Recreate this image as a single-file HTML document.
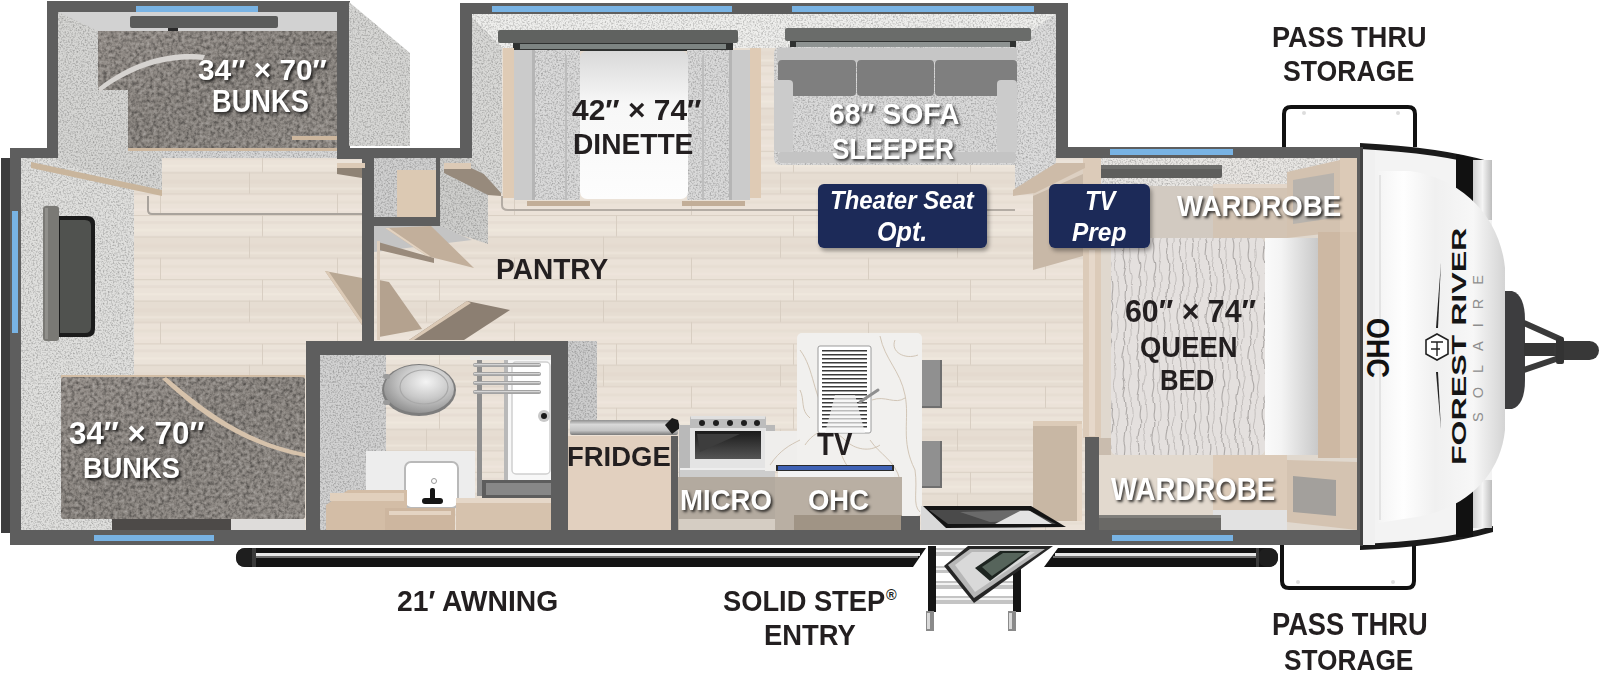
<!DOCTYPE html>
<html><head><meta charset="utf-8">
<style>
html,body{margin:0;padding:0;background:#fff;}
body{width:1600px;height:683px;position:relative;overflow:hidden;font-family:"Liberation Sans",sans-serif;}
svg{position:absolute;left:0;top:0;}
.lbl{position:absolute;font-weight:bold;color:#231f20;white-space:nowrap;line-height:1;transform-origin:0 0;}
.wl{color:#fff;text-shadow:2px 2px 3px rgba(0,0,0,.75);}
.bl{color:#fff;}
</style></head><body>
<svg width="1600" height="683" viewBox="0 0 1600 683">
<defs>
  <pattern id="plank" x="0" y="215" width="177" height="64.2" patternUnits="userSpaceOnUse">
    <rect width="177" height="64.2" fill="#eae1d7"/>
    <rect y="0" width="177" height="21.4" fill="#ebe3d9"/>
    <rect y="21.4" width="177" height="21.4" fill="#e6ddd2"/>
    <rect y="42.8" width="177" height="21.4" fill="#ebe2d8"/>
    <rect y="6" width="177" height="3" fill="#e4dbd0" opacity=".7"/>
    <rect y="29" width="177" height="4" fill="#e2d8cd" opacity=".6"/>
    <rect y="50" width="177" height="3" fill="#e5dcd1" opacity=".6"/>
    <rect y="14" width="177" height="2" fill="#f0e8df" opacity=".8"/>
    <rect y="37" width="177" height="2" fill="#efe7de" opacity=".7"/>
    <rect y="58" width="177" height="2" fill="#f0e8df" opacity=".7"/>
    <rect y="0" width="177" height="1" fill="#dad0c4"/>
    <rect y="21.4" width="177" height="1" fill="#dad0c4"/>
    <rect y="42.8" width="177" height="1" fill="#dad0c4"/>
    <rect x="85" y="0" width="1" height="21.4" fill="#d8cec2"/>
    <rect x="72" y="21.4" width="1" height="21.4" fill="#d8cec2"/>
    <rect x="160" y="42.8" width="1" height="21.4" fill="#d8cec2"/>
  </pattern>
  <linearGradient id="matg" x1="0" y1="0" x2="1" y2="1">
    <stop offset="0" stop-color="#958f8a"/><stop offset=".5" stop-color="#8a8580"/><stop offset="1" stop-color="#928d88"/>
  </linearGradient>
  <linearGradient id="capg" x1="0" y1="0" x2="1" y2="0">
    <stop offset="0" stop-color="#f7f7f7"/><stop offset=".15" stop-color="#ffffff"/><stop offset=".6" stop-color="#f3f3f3"/><stop offset="1" stop-color="#d9d9d9"/>
  </linearGradient>
  <filter id="grain" x="0" y="0" width="100%" height="100%" color-interpolation-filters="sRGB">
    <feTurbulence type="fractalNoise" baseFrequency="0.28" numOctaves="3" seed="7" result="n"/>
    <feColorMatrix in="n" type="matrix" values="0 0 0 0 0  0 0 0 0 0  0 0 0 0 0  0 0 0 -0.9 0.5" result="dark"/>
    <feColorMatrix in="n" type="matrix" values="0 0 0 0 1  0 0 0 0 1  0 0 0 0 1  0 0 0 0.7 -0.4" result="light"/>
    <feComposite in="dark" in2="SourceAlpha" operator="in" result="d2"/>
    <feComposite in="light" in2="SourceAlpha" operator="in" result="l2"/>
    <feMerge><feMergeNode in="SourceGraphic"/><feMergeNode in="d2"/><feMergeNode in="l2"/></feMerge>
  </filter>
  <filter id="grain2" x="0" y="0" width="100%" height="100%" color-interpolation-filters="sRGB">
    <feTurbulence type="fractalNoise" baseFrequency="0.6" numOctaves="2" seed="3" result="n"/>
    <feColorMatrix in="n" type="matrix" values="0 0 0 0 0  0 0 0 0 0  0 0 0 0 0  0 0 0 -0.6 0.34" result="dark"/>
    <feComposite in="dark" in2="SourceAlpha" operator="in" result="d2"/>
    <feMerge><feMergeNode in="SourceGraphic"/><feMergeNode in="d2"/></feMerge>
  </filter>
</defs>
<!-- main body outer walls -->
<rect x="1" y="158" width="9" height="375" fill="#3d3d3e"/>
<rect x="10" y="148" width="1350" height="397" fill="#5e5e5e"/>
<rect x="21" y="158" width="1336" height="372" fill="url(#plank)"/>
<!-- bunk slide -->
<rect x="47" y="1" width="303" height="157" fill="#5e5e5e"/>
<rect x="58" y="12" width="279" height="146" fill="#d5d5d5" filter="url(#grain2)"/>
<rect x="136" y="6" width="122" height="6" fill="#78b3e4"/>
<polygon points="349,2 410,53 410,146 349,146" fill="#d6d6d4" filter="url(#grain2)"/>
<!-- dinette slide -->
<rect x="460" y="3" width="608" height="155" fill="#5e5e5e"/>
<rect x="472" y="14" width="584" height="144" fill="url(#plank)"/>
<rect x="472" y="14" width="584" height="34" fill="#eeeeec" filter="url(#grain2)"/>
<rect x="492" y="6" width="240" height="6" fill="#78b3e4"/>
<rect x="792" y="6" width="242" height="6" fill="#78b3e4"/>
<!-- top wall between slides -->
<rect x="337" y="148" width="123" height="11" fill="#5e5e5e"/>
<rect x="1056" y="147" width="304" height="11" fill="#5e5e5e"/>
<rect x="21" y="158" width="113" height="372" fill="#dfdfdd" filter="url(#grain2)"/>
<!-- upper bunk -->
<rect x="58" y="12" width="279" height="19" fill="#d2d2d2"/>
<polygon points="58,12 98,31 98,88 128,88 128,148 162,148 162,194 58,162" fill="#d5d5d3" filter="url(#grain2)"/>
<polygon points="31,162 162,190 162,196 31,168" fill="#c9b59c"/>
<path d="M98,31 H337 V148 H128 V90 H98 Z" fill="url(#matg)" filter="url(#grain)"/>
<rect x="128" y="148" width="209" height="3" fill="#cdb79e"/>
<path d="M98,88 C140,55 180,52 205,55 L203,60 C175,58 140,62 100,92 Z" fill="#d6d3d0"/>
<rect x="130" y="16" width="148" height="12" rx="2" fill="#5a5b5a"/>
<rect x="168" y="28" width="10" height="3" fill="#2a2a2a"/>
<rect x="292" y="136" width="45" height="4" fill="#cdb79e"/>
<!-- left interior wall -->
<rect x="12" y="211" width="6" height="122" fill="#78b3e4"/>
<rect x="43" y="206" width="16" height="135" rx="3" fill="#7a7975"/><rect x="45" y="208" width="3" height="131" fill="#908f8b"/>
<path d="M59,216 H87 Q95,216 95,224 V329 Q95,337 87,337 H59 Z" fill="#1b1b1b"/>
<path d="M60,220 H85 Q91,220 91,226 V327 Q91,333 85,333 H60 Z" fill="#50524f"/>
<!-- ladder rail -->
<path d="M148,196 V210 Q148,214 152,214 H362" stroke="#a9a39c" stroke-width="2" fill="none"/>
<!-- lower bunk -->
<rect x="61" y="375" width="244" height="3" fill="#d2bda5"/>
<rect x="61" y="377" width="244" height="142" rx="3" fill="url(#matg)" filter="url(#grain)"/>
<path d="M166,377 C200,405 240,440 305,453 L305,457 C240,445 195,410 162,379 Z" fill="#d6c2ab"/>
<rect x="112" y="519" width="119" height="11" fill="#4d4a48"/>
<rect x="231" y="519" width="74" height="11" fill="#dedcda"/>
<rect x="94" y="535" width="120" height="6" fill="#78b3e4"/>
<!-- pantry -->
<rect x="362" y="148" width="12" height="193" fill="#5e5e5e"/>
<rect x="374" y="158" width="64" height="62" fill="#cfcfcf" filter="url(#grain2)"/>
<rect x="397" y="170" width="39" height="47" fill="#dcc9b3"/>
<rect x="374" y="217" width="66" height="9" fill="#5e5e5e"/>
<rect x="436" y="158" width="4" height="68" fill="#5e5e5e"/>
<polygon points="440,158 502,158 502,183 488,195 488,244 440,228" fill="#cececc" filter="url(#grain2)"/>
<polygon points="444,169 471,168 501,182 501,196 488,195 444,173" fill="#978a7c"/>
<rect x="444" y="163" width="27" height="6" fill="#dccab6"/>
<rect x="337" y="163" width="28" height="5" fill="#dccab6"/>
<polygon points="337,168 362,168 362,178 337,174" fill="#8f8375"/>
<polygon points="374,226 440,226 472,240 374,252" fill="#c4c4c4"/>
<polygon points="325,271 362,278 362,325" fill="#b9a894"/>
<polygon points="325,271 329,272 362,320 362,325" fill="#dccab6"/>
<polygon points="379,280 389,282 422,329 379,337" fill="#b4a28f"/>
<polygon points="378,242 434,258 434,263 379,250" fill="#9a8b7c"/>
<polygon points="385,228 431,226 474,268 427,256" fill="#c2af9b"/>
<polygon points="385,228 389,228 430,256 427,256" fill="#e2d2c0"/>
<rect x="377" y="241" width="3" height="99" fill="#ddcdbc"/>
<polygon points="409,340 467,301 510,310 464,340" fill="#8c7f72"/>
<polygon points="409,340 467,301 471,303 414,340" fill="#dbc9b5"/>
<!-- slide 3d side walls -->
<polygon points="472,17 502,48 502,194 472,161" fill="#d8d8d6" filter="url(#grain2)"/>

<polygon points="1056,14 1015,42 1015,193 1056,165" fill="#dcdcdc" filter="url(#grain2)"/>

<!-- dinette -->
<defs><linearGradient id="tblg" x1="0" y1="0" x2="0" y2="1"><stop offset="0" stop-color="#d9d9d9"/><stop offset=".35" stop-color="#f7f7f7"/><stop offset="1" stop-color="#fdfdfd"/></linearGradient></defs>
<rect x="498" y="30" width="240" height="13" rx="2" fill="#606260"/>
<rect x="513" y="43" width="220" height="8" fill="#2f3130"/>
<rect x="520" y="44" width="206" height="5" fill="#7d8482"/>
<rect x="503" y="48" width="11" height="150" fill="#dfcbb5"/>
<rect x="750" y="48" width="11" height="150" fill="#dfcbb5"/>
<rect x="514" y="50" width="66" height="150" fill="#d9d9d9" filter="url(#grain2)"/>
<rect x="514" y="50" width="20" height="150" fill="#cbcbcb"/>
<rect x="532" y="50" width="3" height="150" fill="#b5b5b5"/>
<rect x="565" y="55" width="2" height="145" fill="#bdbdbd"/>
<rect x="687" y="50" width="63" height="150" fill="#d9d9d9" filter="url(#grain2)"/>
<rect x="730" y="50" width="20" height="150" fill="#cbcbcb"/>
<rect x="729" y="50" width="3" height="150" fill="#b5b5b5"/>
<rect x="702" y="55" width="2" height="145" fill="#bdbdbd"/>
<rect x="580" y="51" width="108" height="148" rx="7" fill="url(#tblg)"/>
<rect x="527" y="201" width="63" height="5" fill="#c2ae98"/>
<rect x="682" y="201" width="63" height="5" fill="#c2ae98"/>
<path d="M502,196 V205 Q502,210 508,210 H1015" stroke="#b3aca4" stroke-width="2" fill="none"/>
<!-- sofa -->
<rect x="785" y="28" width="246" height="13" rx="2" fill="#6a6c6a"/>
<rect x="790" y="41" width="226" height="8" fill="#2f3130"/>
<rect x="796" y="42" width="214" height="5" fill="#8e9392"/>
<rect x="774" y="47" width="246" height="118" rx="6" fill="#d9d9d9" filter="url(#grain2)"/>
<rect x="777" y="48" width="240" height="13" rx="3" fill="#c6c6c6"/>
<rect x="778" y="60" width="78" height="36" rx="4" fill="#7f7f7f"/>
<rect x="857" y="60" width="77" height="36" rx="4" fill="#7d7d7d"/>
<rect x="935" y="60" width="82" height="36" rx="4" fill="#7f7f7f"/>
<rect x="774" y="80" width="19" height="72" rx="4" fill="#cbcbcb"/>
<rect x="997" y="80" width="20" height="72" rx="4" fill="#cbcbcb"/>
<rect x="856" y="96" width="1.5" height="66" fill="#bdbdbd"/>
<rect x="934" y="96" width="1.5" height="66" fill="#bdbdbd"/>
<rect x="778" y="152" width="238" height="11" rx="4" fill="#c4c4c4"/>
<!-- bathroom -->
<rect x="306" y="341" width="262" height="204" fill="#5e5e5e"/>
<rect x="320" y="355" width="234" height="175" fill="url(#plank)"/>
<rect x="320" y="355" width="66" height="175" fill="#d1d1d1" filter="url(#grain2)"/>
<rect x="568" y="341" width="29" height="79" fill="#cccccc" filter="url(#grain2)"/>
<!-- toilet -->
<defs><radialGradient id="tlg" cx=".6" cy=".35" r=".7"><stop offset="0" stop-color="#f4f4f4"/><stop offset=".5" stop-color="#c9c9c9"/><stop offset="1" stop-color="#8d8d8d"/></radialGradient></defs>
<ellipse cx="419" cy="390" rx="37" ry="26" fill="#7d7d7d"/>
<ellipse cx="419" cy="389" rx="35" ry="24" fill="url(#tlg)"/>
<ellipse cx="424" cy="387" rx="24" ry="17" fill="none" stroke="#a9a9a9" stroke-width="1.2"/>
<rect x="383" y="374" width="7" height="5" rx="2.5" fill="#9a9a9a"/>
<rect x="383" y="400" width="7" height="5" rx="2.5" fill="#9a9a9a"/>
<!-- shower -->
<rect x="504" y="356" width="50" height="126" fill="#f7f7f7"/>
<rect x="504" y="356" width="4" height="126" fill="#b9b9b9"/>
<rect x="512" y="362" width="38" height="112" rx="4" fill="#ffffff" stroke="#d0d0d0" stroke-width="1.5"/>
<circle cx="544" cy="416" r="6" fill="#c9c9c9"/><circle cx="544" cy="416" r="3" fill="#1a1a1a"/>
<rect x="477" y="357" width="5" height="139" fill="#8f8f8f"/>
<rect x="470" y="356" width="84" height="4" fill="#e8e8e8"/>
<g fill="#a3a3a3">
<rect x="473" y="363" width="68" height="4" rx="2"/>
<rect x="473" y="372" width="68" height="4" rx="2"/>
<rect x="473" y="381" width="68" height="4" rx="2"/>
<rect x="473" y="390" width="68" height="4" rx="2"/>
</g>
<g fill="#d5d5d5"><rect x="474" y="364" width="66" height="1.2"/><rect x="474" y="373" width="66" height="1.2"/><rect x="474" y="382" width="66" height="1.2"/><rect x="474" y="391" width="66" height="1.2"/></g>
<rect x="482" y="480" width="72" height="18" fill="#5d5d5d"/>
<rect x="486" y="483" width="66" height="12" fill="#878787"/>
<!-- sink -->
<rect x="366" y="451" width="109" height="50" fill="#ededed"/>
<rect x="405" y="462" width="53" height="46" rx="6" fill="#ffffff" stroke="#b9b9b9" stroke-width="2"/>
<circle cx="434" cy="481" r="2.5" fill="none" stroke="#999" stroke-width="1"/>
<rect x="430" y="488" width="5" height="14" rx="2" fill="#151515"/>
<rect x="422" y="498" width="21" height="6" rx="3" fill="#151515"/>
<!-- cabinets -->
<polygon points="326,505 348,490 407,490 407,530 326,530" fill="#d3bda6"/>
<rect x="330" y="493" width="74" height="8" fill="#e1d0bd"/>
<rect x="385" y="508" width="70" height="22" fill="#cdb69f"/>
<rect x="389" y="511" width="62" height="4" fill="#e4d4c3"/>
<rect x="456" y="498" width="98" height="32" fill="#d6c2ad"/>
<rect x="456" y="498" width="98" height="5" fill="#e5d7c8"/>
<rect x="551" y="355" width="3" height="175" fill="#5e5e5e"/>
<!-- fridge -->
<defs><linearGradient id="silv" x1="0" y1="0" x2="0" y2="1"><stop offset="0" stop-color="#8f8f8f"/><stop offset=".3" stop-color="#d8d8d8"/><stop offset=".7" stop-color="#c4c4c4"/><stop offset="1" stop-color="#7a7a7a"/></linearGradient>
<linearGradient id="ovg" x1="0" y1="0" x2="0" y2="1"><stop offset="0" stop-color="#1a1a1a"/><stop offset="1" stop-color="#555"/></linearGradient></defs>
<rect x="568" y="433" width="105" height="97" fill="#e2d0bf"/>
<rect x="568" y="433" width="105" height="3" fill="#eee2d6"/>
<rect x="570" y="420" width="108" height="15" rx="2" fill="url(#silv)"/>
<path d="M665,425 L672,418 L678,420 L680,428 L672,434 Z" fill="#1a1a1a"/>
<rect x="671" y="436" width="7" height="94" fill="#5e5e5e"/>
<!-- stove -->
<rect x="679" y="425" width="96" height="52" fill="#b9b9b9"/>
<rect x="690" y="416" width="76" height="12" rx="2" fill="#bdbdbd"/>
<rect x="691" y="416" width="74" height="3" fill="#e0e0e0"/>
<g fill="#1f1f1f"><circle cx="702" cy="423" r="3"/><circle cx="716" cy="423" r="3"/><circle cx="730" cy="423" r="3"/><circle cx="744" cy="423" r="3"/><circle cx="757" cy="423" r="3"/></g>
<rect x="690" y="428" width="76" height="41" fill="#e4e4e4"/>
<rect x="695" y="431" width="66" height="28" fill="url(#ovg)"/>
<polygon points="697,434 740,434 700,452" fill="#3d3d3d"/>
<rect x="680" y="468" width="95" height="9" fill="#cdcdcd"/>
<rect x="680" y="468" width="95" height="2" fill="#eeeeee"/>
<!-- island -->
<rect x="765" y="431" width="40" height="40" fill="#efeeec"/>
<rect x="797" y="333" width="125" height="183" rx="5" fill="#f1f0ee"/>
<g stroke="#c9bba9" stroke-width="0.9" fill="none" opacity=".9">
<path d="M800,350 C815,370 812,395 830,420 C840,435 835,450 850,470"/>
<path d="M880,336 C885,360 900,370 905,395 C910,420 900,440 915,470 C918,490 912,505 920,512"/>
<path d="M870,440 C880,455 895,460 900,480"/>
<path d="M805,445 C815,430 830,425 845,440 C855,450 870,452 880,445"/>
<path d="M895,340 C890,352 905,360 918,355"/>
<path d="M872,400 C885,395 895,405 905,398"/>
<path d="M770,465 C780,450 790,445 800,440"/>
<path d="M800,390 C805,400 800,410 810,418"/>
</g>
<rect x="818" y="346" width="53" height="87" rx="2" fill="#ffffff" stroke="#9a9a9a" stroke-width="1"/>
<g fill="#3a3a3a">
<rect x="822" y="350" width="45" height="1.5"/><rect x="822" y="354" width="45" height="1.5"/><rect x="822" y="358" width="45" height="1.5"/><rect x="822" y="362" width="45" height="1.5"/><rect x="822" y="366" width="45" height="1.5"/><rect x="822" y="370" width="45" height="1.5"/><rect x="822" y="374" width="45" height="1.5"/><rect x="822" y="378" width="45" height="1.5"/><rect x="822" y="382" width="45" height="1.5"/><rect x="822" y="386" width="45" height="1.5"/><rect x="822" y="390" width="45" height="1.5"/><rect x="822" y="394" width="45" height="1.5"/><rect x="822" y="398" width="45" height="1.5"/><rect x="822" y="402" width="45" height="1.5"/><rect x="822" y="406" width="45" height="1.5"/><rect x="822" y="410" width="45" height="1.5"/><rect x="822" y="414" width="45" height="1.5"/><rect x="822" y="418" width="45" height="1.5"/><rect x="822" y="422" width="45" height="1.5"/><rect x="822" y="426" width="45" height="1.5"/>
</g>
<polygon points="835,395 855,395 865,433 825,433" fill="#f4f4f4" opacity=".7"/>
<path d="M860,402 L878,390" stroke="#8f8f8f" stroke-width="3" stroke-linecap="round"/>
<!-- stools -->
<rect x="922" y="360" width="20" height="48" fill="#6f6f6f"/><rect x="922" y="360" width="18" height="46" fill="#909090"/>
<rect x="922" y="441" width="20" height="47" fill="#6f6f6f"/><rect x="922" y="441" width="18" height="45" fill="#909090"/>
<!-- lower cabinets -->
<rect x="678" y="477" width="224" height="53" fill="#b9afa3"/>
<rect x="679" y="477" width="96" height="53" fill="#b3aa9f"/>
<rect x="679" y="519" width="96" height="11" fill="#d5cdc3"/>
<rect x="776" y="465" width="118" height="6" fill="#2a2a2a"/><rect x="778" y="466" width="114" height="4" fill="#3f62b5"/>
<rect x="778" y="471" width="116" height="6" fill="#f3f3f3"/>
<rect x="794" y="515" width="108" height="15" fill="#a09485"/>
<rect x="901" y="516" width="19" height="14" fill="#5d5d5d"/>
<!-- right cabinet near entry -->
<rect x="1033" y="421" width="49" height="100" fill="#c8b7a4"/>
<rect x="1033" y="421" width="49" height="5" fill="#dccbb8"/>
<rect x="1077" y="424" width="5" height="97" fill="#e6d5c3"/>
<!-- entry door -->
<rect x="921" y="506" width="110" height="24" fill="#d9d9d9"/>
<polygon points="923,506 1031,506 1066,527 946,528" fill="#141414"/>
<polygon points="929,510 1028,510 1056,524 948,524" fill="#4a4a4a"/>
<polygon points="960,512 1028,510 1045,520 990,522" fill="#6a6a6a"/>
<polygon points="995,524 1020,511 1030,511 1052,524" fill="#e3e3e3"/>
<!-- bedroom -->
<defs>
<pattern id="wave" x="0" y="0" width="14" height="40" patternUnits="userSpaceOnUse">
  <rect width="14" height="40" fill="#e4e0de"/>
  <path d="M4,0 C7,8 2,14 5,20 C8,27 3,33 4,40" stroke="#aeaaa8" stroke-width="1.1" fill="none"/>
  <path d="M11,0 C9,6 13,13 10,22 C8,30 12,35 11,40" stroke="#bdb9b7" stroke-width="0.9" fill="none"/>
</pattern>
<linearGradient id="pillg" x1="0" y1="0" x2="1" y2="0"><stop offset="0" stop-color="#fafafa"/><stop offset=".3" stop-color="#f4f4f4"/><stop offset="1" stop-color="#c9c9c9"/></linearGradient>
<filter id="wob" x="-5%" y="-5%" width="110%" height="110%">
  <feTurbulence type="fractalNoise" baseFrequency="0.015 0.03" numOctaves="1" seed="11" result="t"/>
  <feDisplacementMap in="SourceGraphic" in2="t" scale="12" xChannelSelector="R" yChannelSelector="G"/>
</filter>
<clipPath id="matclip"><rect x="1111" y="238" width="154" height="217" rx="6"/></clipPath>
</defs>
<rect x="1056" y="3" width="12" height="155" fill="#5e5e5e"/>
<rect x="1099" y="158" width="258" height="372" fill="#e0d8ce"/>
<rect x="1099" y="158" width="258" height="28" fill="#e8e6e3" filter="url(#grain2)"/>
<rect x="1087" y="158" width="12" height="30" fill="#5e5e5e"/>
<rect x="1110" y="149" width="123" height="6" fill="#78b3e4"/>
<rect x="1099" y="165" width="123" height="13" rx="2" fill="#5e5e5c"/>
<rect x="1099" y="165" width="123" height="4" fill="#6d6d6b"/>
<rect x="1083" y="158" width="18" height="280" fill="#dccbb9"/>
<rect x="1089" y="250" width="6" height="186" fill="#e6d8ca"/>
<polygon points="1033,190 1083,168 1083,256 1033,270" fill="#c8b8a7"/>
<polygon points="1033,190 1083,168 1083,174 1033,196" fill="#ddd0c2"/>
<polygon points="1013,190 1056,163 1085,163 1085,168 1035,193 1013,196" fill="#cdbba8"/>
<rect x="1099" y="186" width="114" height="52" fill="#d2cac1"/>
<rect x="1213" y="184" width="74" height="54" fill="#d3c4b4"/>
<rect x="1213" y="184" width="74" height="4" fill="#e3d6c9"/>
<polygon points="1287,172 1340,160 1340,232 1287,238" fill="#d3c2b0"/>
<polygon points="1293,180 1334,173 1334,218 1293,224" fill="#b8b3ad"/>
<rect x="1340" y="158" width="17" height="88" fill="#dccab7"/>
<rect x="1111" y="238" width="154" height="217" rx="6" fill="#e4e0de"/>
<g clip-path="url(#matclip)"><rect x="1100" y="228" width="176" height="237" fill="url(#wave)" filter="url(#wob)"/></g>
<rect x="1265" y="238" width="53" height="217" fill="url(#pillg)"/>
<rect x="1318" y="232" width="22" height="226" fill="#cdb8a3"/>
<rect x="1340" y="232" width="17" height="226" fill="#d8c5b1"/>
<rect x="1099" y="438" width="12" height="92" fill="#c9bcae"/>
<rect x="1099" y="455" width="114" height="60" fill="#e2d9ce"/>
<rect x="1213" y="455" width="74" height="55" fill="#dccbb9"/>
<rect x="1213" y="510" width="74" height="20" fill="#e2e2e2"/>
<polygon points="1287,460 1357,462 1357,530 1287,522" fill="#d4c3b1"/>
<polygon points="1293,476 1336,480 1336,516 1293,512" fill="#a3a09c"/>
<rect x="1099" y="515" width="122" height="15" fill="#6a6966"/>
<rect x="1099" y="515" width="122" height="3" fill="#807f7b"/>
<rect x="1085" y="437" width="14" height="93" fill="#5e5e5e"/>
<rect x="1112" y="535" width="121" height="6" fill="#78b3e4"/>
<!-- pass thru boxes -->
<path d="M1284,147 V114 Q1284,107 1291,107 H1408 Q1415,107 1415,114 V147" stroke="#111" stroke-width="4" fill="none"/>
<circle cx="1304" cy="113" r="2" fill="#ddd"/><circle cx="1398" cy="113" r="2" fill="#ddd"/>
<path d="M1282,545 V581 Q1282,588 1289,588 H1407 Q1414,588 1414,581 V545" stroke="#111" stroke-width="4" fill="none"/>
<circle cx="1298" cy="582" r="2" fill="#ddd"/><circle cx="1393" cy="582" r="2" fill="#ddd"/>
<!-- cap body -->
<defs>
<linearGradient id="sideg" x1="0" y1="0" x2="1" y2="0"><stop offset="0" stop-color="#cfcfcf"/><stop offset=".5" stop-color="#f5f5f5"/><stop offset="1" stop-color="#bdbdbd"/></linearGradient>
<linearGradient id="bulg" x1="0" y1="0" x2="1" y2="0"><stop offset="0" stop-color="#f4f4f4"/><stop offset=".2" stop-color="#fefefe"/><stop offset=".45" stop-color="#f0f0f0"/><stop offset=".75" stop-color="#f7f7f7"/><stop offset="1" stop-color="#d4d4d4"/></linearGradient>
</defs>
<path d="M1360,147 Q1430,150 1492,166 V530 Q1430,545 1360,546 Z" fill="#f3f3f3"/>
<path d="M1360,143 Q1440,147 1492,162 L1492,168 Q1440,153 1360,149 Z" fill="#1b1b1b"/>
<path d="M1360,550 Q1440,547 1493,532 L1493,526 Q1440,541 1360,544 Z" fill="#1b1b1b"/>
<rect x="1473" y="160" width="19" height="60" fill="url(#sideg)"/>
<rect x="1473" y="480" width="19" height="48" fill="url(#sideg)"/>
<polygon points="1456,154 1473,158 1473,215 1456,201" fill="#111"/>
<polygon points="1456,496 1473,486 1473,537 1456,537" fill="#111"/>
<path d="M1362,150 H1375 V545 H1362 Z" fill="#f0f0f0"/>
<path d="M1378,171 H1410 C1460,178 1500,215 1505,268 V430 C1500,480 1460,512 1410,518 L1378,523 Z" fill="url(#bulg)"/>
<rect x="1360" y="147" width="3" height="399" fill="#444"/>
<rect x="1379" y="175" width="2" height="345" fill="#e3e3e3"/>
<!-- hitch -->
<path d="M1505,291 H1512 Q1525,295 1525,320 V380 Q1525,405 1512,409 H1505 Z" fill="#3d3d3f"/>
<path d="M1524,323 L1562,340 M1524,370 L1562,357" stroke="#3a3a3a" stroke-width="6"/>
<rect x="1524" y="343" width="32" height="13" fill="#363636"/>
<rect x="1553" y="341" width="46" height="19" rx="9.5" fill="#383838"/>
<rect x="1556" y="337" width="8" height="27" rx="2" fill="#333"/>
<!-- forest river logo -->
<g transform="translate(1466,465) rotate(-90)">
  <text x="0" y="0" font-family="Liberation Sans" font-weight="bold" font-size="21" fill="#151515" transform="scale(1.53,1)">FOREST RIVER</text>
</g>
<g transform="translate(1483,422) rotate(-90)">
  <text x="0" y="0" font-family="Liberation Sans" font-size="14.5" fill="#8e8e8e" letter-spacing="14">SOLAIRE</text>
</g>
<polygon points="1437,334 1448,340 1448,354 1437,360 1426,354 1426,340" fill="#fff" stroke="#222" stroke-width="1.6"/>
<path d="M1431,342 H1443 M1437,342 V356 M1431,349 H1440" stroke="#222" stroke-width="1.4" fill="none"/>
<path d="M1441,262 L1438,328 L1436,328 Z" fill="#222"/>
<path d="M1441,430 L1438,372 L1436,372 Z" fill="#222"/>
<g transform="translate(1367,348) rotate(90)">
  <text x="0" y="0" text-anchor="middle" font-family="Liberation Sans" font-weight="bold" font-size="27" fill="#111" transform="scale(1,1.18)">OHC</text>
</g>
<!-- awning -->
<path d="M246,548 H926 L913,567 H246 Q236,567 236,557.5 Q236,548 246,548 Z" fill="#141414"/>
<rect x="256" y="553" width="664" height="3" fill="#e8e8e8"/>
<rect x="256" y="556" width="662" height="2" fill="#6e6e6e"/>
<path d="M1058,548 H1268 Q1278,548 1278,557.5 Q1278,567 1268,567 H1044 Z" fill="#141414"/>
<rect x="1055" y="553" width="205" height="3" fill="#e8e8e8"/>
<rect x="1053" y="556" width="207" height="2" fill="#6e6e6e"/>
<rect x="236" y="548" width="20" height="19" rx="9" fill="#1e1e1e"/>
<rect x="252" y="548" width="4" height="19" fill="#3a3a3a"/>
<rect x="1258" y="548" width="20" height="19" rx="9" fill="#1e1e1e"/>
<rect x="1256" y="548" width="3" height="19" fill="#3a3a3a"/>
<!-- step -->
<g fill="#c4c4c4"><rect x="936" y="548" width="77" height="8"/><rect x="936" y="566" width="77" height="7"/><rect x="936" y="581" width="77" height="8"/><rect x="936" y="596" width="77" height="8"/></g>
<g fill="#f2f2f2"><rect x="936" y="550" width="77" height="2"/><rect x="936" y="568" width="77" height="2"/><rect x="936" y="583" width="77" height="2"/><rect x="936" y="598" width="77" height="2"/></g>
<rect x="928" y="546" width="8" height="66" fill="#151515"/>
<rect x="1013" y="546" width="8" height="66" fill="#151515"/>
<rect x="926" y="611" width="8" height="20" fill="#8a8a8a"/>
<rect x="927" y="613" width="3" height="16" fill="#d9d9d9"/>
<rect x="1008" y="611" width="8" height="20" fill="#8a8a8a"/>
<rect x="1009" y="613" width="3" height="16" fill="#d9d9d9"/>
<polygon points="944,566 968,546 1053,546 974,603" fill="#262626"/>
<polygon points="948,565 970,549 1045,549 974,598" fill="#b7b7b7"/>
<polygon points="955,565 972,552 1035,552 975,592" fill="#d9d9d9"/>
<polygon points="975,568 1000,551 1030,551 990,581" fill="#1d2420"/>
<polygon points="982,567 1003,553 1025,553 992,576" fill="#56645b"/>
<filter id="bsh" x="-10%" y="-10%" width="130%" height="140%"><feDropShadow dx="2" dy="3" stdDeviation="2" flood-color="#000" flood-opacity=".35"/></filter>
<g filter="url(#bsh)">
<rect x="818" y="184" width="169" height="64" rx="6" fill="#1b2959"/>
<rect x="1049" y="184" width="101" height="64" rx="6" fill="#1b2959"/>
</g>

</svg>
<div class="lbl" style="left:1272.0px;top:21.5px;font-size:30.0px;transform:scaleX(0.903);">PASS THRU</div>
<div class="lbl" style="left:1283.3px;top:55.5px;font-size:30.0px;transform:scaleX(0.889);">STORAGE</div>
<div class="lbl" style="left:1272.0px;top:609.3px;font-size:31.43px;transform:scaleX(0.868);">PASS THRU</div>
<div class="lbl" style="left:1284.3px;top:644.5px;font-size:30.0px;transform:scaleX(0.875);">STORAGE</div>
<div class="lbl" style="left:397.3px;top:585.5px;font-size:30.0px;transform:scaleX(0.942);">21′ AWNING</div>
<div class="lbl" style="left:723.3px;top:586.7px;font-size:28.57px;transform:scaleX(0.955);">SOLID STEP</div>
<div class="lbl" style="left:763.9px;top:620.7px;font-size:28.57px;transform:scaleX(0.958);">ENTRY</div>
<div class="lbl" style="left:572.3px;top:94.5px;font-size:30.0px;transform:scaleX(0.998);">42″ × 74″</div>
<div class="lbl" style="left:572.9px;top:128.6px;font-size:29.29px;transform:scaleX(0.961);">DINETTE</div>
<div class="lbl" style="left:495.9px;top:253.5px;font-size:30.0px;transform:scaleX(0.936);">PANTRY</div>
<div class="lbl" style="left:1124.5px;top:297.4px;font-size:30.71px;transform:scaleX(0.988);">60″ × 74″</div>
<div class="lbl" style="left:1139.6px;top:332.3px;font-size:29.57px;transform:scaleX(0.928);">QUEEN</div>
<div class="lbl" style="left:1159.7px;top:366.3px;font-size:28.71px;transform:scaleX(0.895);">BED</div>
<div class="lbl" style="left:567.3px;top:443.4px;font-size:27.71px;transform:scaleX(0.991);">FRIDGE</div>
<div class="lbl" style="left:817.0px;top:429.4px;font-size:30.43px;transform:scaleX(0.91);">TV</div>
<div class="lbl wl" style="left:198.3px;top:54.5px;font-size:30.0px;transform:scaleX(0.994);">34″ × 70″</div>
<div class="lbl wl" style="left:212.0px;top:86.3px;font-size:31.43px;transform:scaleX(0.867);">BUNKS</div>
<div class="lbl wl" style="left:69.2px;top:418.3px;font-size:31.43px;transform:scaleX(0.997);">34″ × 70″</div>
<div class="lbl wl" style="left:83.0px;top:452.5px;font-size:30.0px;transform:scaleX(0.908);">BUNKS</div>
<div class="lbl wl" style="left:828.6px;top:98.5px;font-size:30.0px;transform:scaleX(0.948);">68″ SOFA</div>
<div class="lbl wl" style="left:832.3px;top:133.5px;font-size:30.0px;transform:scaleX(0.872);">SLEEPER</div>
<div class="lbl wl" style="left:1177.0px;top:191.0px;font-size:30.14px;transform:scaleX(0.917);">WARDROBE</div>
<div class="lbl wl" style="left:1111.0px;top:474.3px;font-size:31.43px;transform:scaleX(0.879);">WARDROBE</div>
<div class="lbl wl" style="left:679.9px;top:484.5px;font-size:30.0px;transform:scaleX(0.92);">MICRO</div>
<div class="lbl wl" style="left:807.6px;top:484.5px;font-size:30.0px;transform:scaleX(0.915);">OHC</div>
<div class="lbl bl" style="left:830.2px;top:187.9px;font-size:25.73px;transform:scaleX(0.931);font-style:italic;">Theater Seat</div>
<div class="lbl bl" style="left:877.3px;top:218.4px;font-size:27.14px;transform:scaleX(0.928);font-style:italic;">Opt.</div>
<div class="lbl bl" style="left:1084.5px;top:186.7px;font-size:27.29px;transform:scaleX(0.877);font-style:italic;">TV</div>
<div class="lbl bl" style="left:1072.2px;top:219.8px;font-size:25.14px;transform:scaleX(0.973);font-style:italic;">Prep</div>

<div class="lbl" style="left:886px;top:588px;font-size:14.5px">®</div>
</body></html>
